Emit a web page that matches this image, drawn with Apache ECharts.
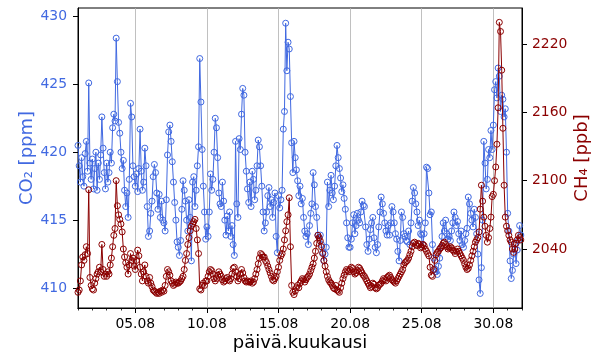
<!DOCTYPE html>
<html><head><meta charset="utf-8">
<script src="https://cdn.jsdelivr.net/npm/echarts@6/dist/echarts.min.js"></script>
<style>html,body{margin:0;padding:0;background:#fff}#c{width:600px;height:360px}</style>
</head><body><div id="c"></div>
<script>
// time axis: day of month (1 = 01.08 00:00), one value every 2 hours
const startDay = 1;
const stepHours = 2;

const co2 = [
420.5,419.0,417.8,419.6,418.2,417.5,419.9,420.8,418.6,425.1,419.2,418.0,
419.5,417.3,418.8,420.0,417.2,419.2,418.0,419.8,422.6,420.3,418.5,417.3,
419.2,417.8,418.5,420.0,419.2,421.8,422.8,422.3,428.4,425.2,422.2,421.4,
420.0,418.8,419.4,417.2,416.0,417.0,415.2,418.0,423.6,422.6,419.0,418.2,
417.5,418.4,417.1,418.8,421.7,418.6,417.2,417.8,420.3,419.0,416.0,413.8,
414.2,415.5,416.4,418.2,419.1,418.5,417.0,415.8,416.9,415.2,416.4,415.0,
414.8,414.2,416.5,419.8,421.5,422.0,420.8,419.3,417.8,416.3,415.0,413.4,
413.0,412.4,413.5,415.8,417.9,417.2,416.4,415.0,414.2,416.5,415.2,412.0,
417.8,418.2,416.0,417.2,419.0,420.4,426.9,423.7,420.2,417.5,415.6,413.6,
414.5,413.8,415.6,418.4,417.2,418.0,420.0,422.5,421.8,419.6,417.0,416.2,
416.0,417.8,416.4,415.0,413.9,415.3,414.2,415.6,413.8,414.6,413.2,412.4,
420.8,416.2,415.2,421.0,420.2,422.8,424.7,424.2,420.0,418.6,417.3,416.3,
417.8,416.0,418.6,418.0,416.5,417.2,419.0,420.9,420.4,419.0,417.5,415.6,
414.2,414.8,415.6,416.8,417.4,416.0,416.5,415.2,416.3,417.0,413.8,412.6,
416.8,415.9,416.5,417.2,421.7,423.0,429.5,426.0,428.1,427.6,424.1,420.7,
418.5,420.8,419.6,418.7,417.9,416.8,417.5,416.2,416.6,415.2,414.2,413.8,
414.0,413.2,414.6,415.5,416.2,418.5,417.6,416.0,415.2,413.9,413.7,413.9,
413.2,412.6,412.0,412.5,413.0,417.8,416.0,417.2,418.3,417.0,416.5,417.5,
419.0,420.5,419.6,418.8,418.1,417.1,417.6,416.6,415.8,414.8,413.7,413.0,
413.0,413.6,414.8,415.4,414.0,414.6,415.5,415.0,414.8,415.6,416.4,416.1,
416.0,414.5,413.2,412.7,413.6,414.3,414.8,415.2,413.7,413.0,412.6,413.2,
414.5,415.6,416.7,416.2,415.5,414.8,414.2,413.9,414.6,413.9,414.8,416.0,
415.6,414.8,414.0,413.6,412.7,412.0,413.5,415.6,415.2,414.0,413.8,413.5,
413.4,414.2,413.2,414.8,416.4,417.4,417.0,416.2,415.6,414.6,415.0,414.0,
413.9,413.2,414.0,414.8,418.9,418.8,417.0,415.4,415.6,413.2,412.2,411.4,
411.2,411.0,411.6,412.2,413.0,413.8,414.8,414.2,415.0,414.0,413.6,413.8,
413.5,414.2,414.8,415.6,415.2,414.6,414.9,414.0,413.5,414.2,413.2,413.0,
413.5,414.0,414.4,416.7,416.2,415.5,415.0,414.5,415.8,415.2,414.0,412.5,
410.6,409.6,411.5,415.0,420.8,419.2,417.3,418.0,420.2,419.6,421.6,420.2,
422.0,424.6,425.2,424.0,426.2,425.6,423.0,424.2,423.9,422.6,423.2,420.0,
415.5,414.2,412.0,410.7,411.3,412.5,413.2,411.8,412.8,413.5,414.6,413.9
];

const ch4 = [
2002,2004,2012,2026,2033,2030,2035,2042,2036,2092,2015,2008,
2005,2004,2010,2014,2018,2020,2024,2020,2044,2022,2016,2018,
2016,2020,2018,2026,2032,2042,2052,2058,2100,2078,2070,2066,
2062,2055,2040,2033,2028,2024,2018,2026,2036,2030,2032,2025,
2022,2030,2039,2034,2024,2018,2012,2020,2026,2016,2012,2010,
2015,2010,2007,2004,2003,2002,2001,2002,2001,2003,2002,2004,
2003,2008,2016,2022,2020,2017,2012,2010,2008,2009,2011,2010,
2010,2011,2012,2014,2016,2022,2030,2036,2044,2050,2056,2060,
2062,2064,2066,2058,2048,2036,2005,2004,2008,2010,2008,2012,
2012,2016,2020,2022,2021,2018,2014,2012,2014,2017,2020,2018,
2016,2013,2011,2012,2014,2015,2013,2012,2014,2018,2023,2024,
2020,2016,2012,2014,2018,2022,2019,2015,2012,2011,2012,2011,
2011,2012,2010,2011,2014,2018,2022,2027,2032,2036,2035,2033,
2033,2030,2028,2025,2022,2019,2016,2013,2012,2014,2016,2020,
2024,2030,2034,2036,2040,2048,2056,2064,2070,2085,2042,2008,
2002,2000,2003,2006,2008,2006,2010,2012,2014,2013,2011,2013,
2015,2016,2018,2021,2024,2027,2032,2038,2045,2052,2050,2047,
2042,2036,2030,2025,2020,2016,2013,2011,2010,2008,2006,2005,
2008,2004,2003,2002,2006,2010,2014,2017,2020,2022,2021,2020,
2022,2024,2023,2020,2018,2019,2021,2024,2023,2021,2019,2017,
2016,2014,2012,2010,2008,2006,2007,2010,2009,2006,2005,2006,
2008,2009,2010,2012,2014,2013,2012,2015,2016,2017,2015,2013,
2012,2011,2010,2012,2014,2016,2018,2020,2022,2026,2028,2029,
2030,2032,2035,2038,2042,2045,2046,2044,2043,2045,2044,2041,
2042,2044,2043,2040,2038,2036,2034,2024,2017,2016,2022,2030,
2035,2037,2038,2040,2041,2043,2045,2046,2044,2042,2040,2041,
2042,2041,2039,2038,2036,2038,2040,2038,2036,2034,2032,2030,
2027,2024,2022,2023,2026,2030,2034,2038,2042,2046,2048,2050,
2055,2075,2096,2082,2068,2060,2052,2046,2050,2058,2068,2086,
2088,2100,2112,2132,2164,2239,2231,2197,2146,2096,2068,2060,
2056,2052,2048,2046,2040,2037,2040,2045,2048,2052,2050,2048
];

const xTickDays = [5, 10, 15, 20, 25, 30];
const xTickLabels = ['05.08', '10.08', '15.08', '20.08', '25.08', '30.08'];
const co2Ticks = [410, 415, 420, 425, 430];
const ch4Ticks = [2040, 2100, 2160, 2220];

const FONT = 'DejaVu Sans';
const BLUE = '#4169E1';
const RED = '#8B0000';
const t = i => startDay + i * stepHours / 24;

const chart = echarts.init(document.getElementById('c'), null, {renderer: 'canvas'});
chart.setOption({
  animation: false,
  backgroundColor: '#fff',
  grid: {left: 78, right: 78, top: 8, bottom: 52, show: true, borderColor: '#000', borderWidth: 1, backgroundColor: 'transparent'},
  xAxis: [
    {
      type: 'value', min: 1, max: 32, position: 'bottom',
      axisLine: {show: true, lineStyle: {color: '#000', width: 1}},
      axisTick: {show: true, customValues: xTickDays, length: 5, lineStyle: {color: '#000', width: 1}},
      axisLabel: {customValues: xTickDays, formatter: v => xTickLabels[xTickDays.indexOf(v)],
        color: '#000', fontSize: 13.9, fontFamily: FONT, margin: 9},
      splitLine: {show: false},
      name: 'päivä.kuukausi', nameLocation: 'middle', nameGap: 26, nameMoveOverlap: false,
      nameTextStyle: {color: '#000', fontSize: 18, fontFamily: FONT}
    },
    {
      type: 'value', min: 1, max: 32, interval: 1, position: 'bottom',
      axisLine: {show: true, lineStyle: {color: '#000', width: 1}},
      axisTick: {show: true, length: 2.5, lineStyle: {color: '#000', width: 0.8}},
      axisLabel: {show: false}, splitLine: {show: false}
    }
  ],
  yAxis: [
    {
      type: 'value', position: 'left', min: 408.53, max: 430.62,
      axisLine: {show: true, lineStyle: {color: '#000', width: 1}},
      axisTick: {show: true, customValues: co2Ticks, length: 5, lineStyle: {color: '#000', width: 1}},
      axisLabel: {customValues: co2Ticks, color: BLUE, fontSize: 13.9, fontFamily: FONT, margin: 11},
      splitLine: {show: false},
      name: 'CO₂ [ppm]', nameLocation: 'middle', nameRotate: 90, nameGap: 42, nameMoveOverlap: false,
      nameTextStyle: {color: BLUE, fontSize: 18, fontFamily: FONT}
    },
    {
      type: 'value', position: 'right', min: 1988.2, max: 2251.6,
      axisLine: {show: true, lineStyle: {color: '#000', width: 1}},
      axisTick: {show: true, customValues: ch4Ticks, length: 5, lineStyle: {color: '#000', width: 1}},
      axisLabel: {customValues: ch4Ticks, formatter: v => String(v), color: RED, fontSize: 13.9, fontFamily: FONT, margin: 10},
      splitLine: {show: false},
      name: 'CH₄ [ppb]', nameLocation: 'middle', nameRotate: 90, nameGap: 51, nameMoveOverlap: false,
      nameTextStyle: {color: RED, fontSize: 18, fontFamily: FONT}
    }
  ],
  series: [
    {
      type: 'line', xAxisIndex: 0, yAxisIndex: 0, z: 2,
      data: co2.map((v, i) => [t(i), v]),
      symbol: 'circle', symbolSize: 6, showSymbol: true, showAllSymbol: true,
      itemStyle: {color: 'rgba(0,0,0,0)', borderColor: BLUE, borderWidth: 1},
      lineStyle: {color: BLUE, width: 1}, emphasis: {disabled: true},
      markLine: {
        silent: true, z: 1, symbol: ['none', 'none'], label: {show: false},
        lineStyle: {color: '#b0b0b0', width: 0.8, type: 'solid'},
        emphasis: {disabled: true},
        data: xTickDays.map(d => ({xAxis: d}))
      }
    },
    {
      type: 'line', xAxisIndex: 0, yAxisIndex: 1, z: 3,
      data: ch4.map((v, i) => [t(i), v]),
      symbol: 'circle', symbolSize: 6, showSymbol: true, showAllSymbol: true,
      itemStyle: {color: 'rgba(0,0,0,0)', borderColor: RED, borderWidth: 1},
      lineStyle: {color: RED, width: 1}, emphasis: {disabled: true}
    }
  ]
});
</script></body></html>
